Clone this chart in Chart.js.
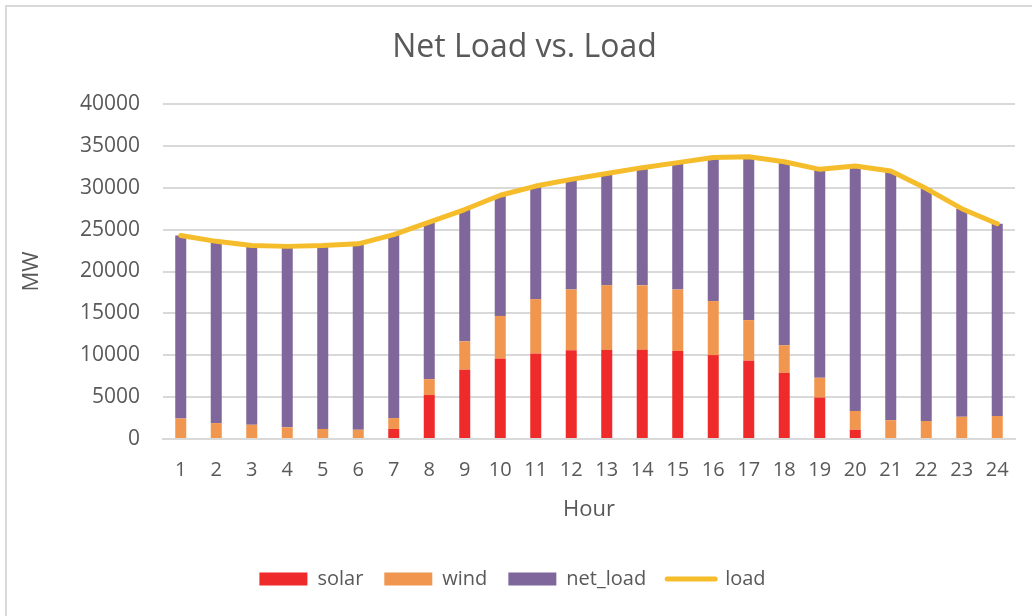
<!DOCTYPE html>
<html>
<head>
<meta charset="utf-8">
<script src="https://cdn.jsdelivr.net/npm/chart.js@4/dist/chart.umd.min.js"></script>
<style>
  html, body { margin: 0; padding: 0; background: #ffffff; overflow: hidden; }
  #frame { position: absolute; left: 5px; top: 5px; width: 1100px; height: 700px;
           border-left: 2px solid #d9d9d9; border-top: 2px solid #d9d9d9; box-sizing: border-box; }
  #c { position: absolute; left: 0; top: 0; }
</style>
</head>
<body>
<div id="frame"></div>
<canvas id="c" width="1032" height="616"></canvas>
<script>
const hours = ['1','2','3','4','5','6','7','8','9','10','11','12','13','14','15','16','17','18','19','20','21','22','23','24'];
const solar = [0, 0, 0, 0, 0, 0, 1200, 5250, 8270, 9600, 10200, 10600, 10620, 10650, 10500, 10020, 9350, 7900, 4950, 1100, 0, 0, 0, 0];
const wind = [2450, 1900, 1700, 1400, 1200, 1100, 1300, 1900, 3400, 5100, 6500, 7250, 7750, 7700, 7350, 6450, 4850, 3300, 2350, 2250, 2250, 2150, 2650, 2750];
const netLoad = [21850, 21700, 21400, 21600, 21900, 22200, 21900, 18750, 15730, 14400, 13500, 13150, 13330, 14050, 15150, 17130, 19500, 21900, 24900, 29250, 29750, 27750, 24850, 22950];
const load = [24300, 23600, 23100, 23000, 23100, 23300, 24400, 25900, 27400, 29100, 30200, 31000, 31700, 32400, 33000, 33600, 33700, 33100, 32200, 32600, 32000, 29900, 27500, 25700];
const yTicks = [0, 5000, 10000, 15000, 20000, 25000, 30000, 35000, 40000];

const FONT = "'Open Sans', 'Noto Sans', sans-serif";
const TEXT = '#595959';
const GRID = '#d9d9d9';

const nudge = {
  id: 'nudge',
  afterLayout(chart) {
    if (chart.titleBlock) { chart.titleBlock.left += 34; }
    if (chart.legend) { chart.legend.left += 10; }
  }
};

new Chart(document.getElementById('c'), {
  data: {
    labels: hours,
    datasets: [
      { type: 'bar', label: 'solar', data: solar, backgroundColor: '#EE2A2A', stack: 'gen', order: 1,
        categoryPercentage: 1, barPercentage: 0.31 },
      { type: 'bar', label: 'wind', data: wind, backgroundColor: '#F0964F', stack: 'gen', order: 1,
        categoryPercentage: 1, barPercentage: 0.31 },
      { type: 'bar', label: 'net_load', data: netLoad, backgroundColor: '#7F669B', stack: 'gen', order: 1,
        categoryPercentage: 1, barPercentage: 0.31 },
      { type: 'line', label: 'load', data: load, borderColor: '#F5BD2B', backgroundColor: '#F5BD2B',
        borderWidth: 5, pointRadius: 0, pointHoverRadius: 0, tension: 0, fill: false,
        borderCapStyle: 'round', borderJoinStyle: 'round', stack: 'loadline', order: 0 }
    ]
  },
  plugins: [nudge],
  options: {
    responsive: false,
    animation: false,
    devicePixelRatio: 1,
    layout: { padding: { left: 0, right: 17, top: 0, bottom: 17 } },
    plugins: {
      title: {
        display: true, text: 'Net Load vs. Load', color: TEXT,
        font: { family: FONT, size: 32, weight: 'normal' },
        padding: { top: 29, bottom: 36.6 }
      },
      legend: {
        display: true, position: 'bottom',
        labels: {
          color: TEXT, font: { family: FONT, size: 20 }, padding: 21,
          usePointStyle: true, pointStyleWidth: 48, boxWidth: 48, boxHeight: 13,
          generateLabels: (chart) => chart.data.datasets.map((ds, i) => {
            const isLine = ds.type === 'line';
            return {
              text: ds.label, datasetIndex: i, hidden: false, fontColor: TEXT,
              fillStyle: ds.backgroundColor, strokeStyle: isLine ? ds.borderColor : ds.backgroundColor,
              lineWidth: isLine ? 5 : 0, lineCap: 'round', pointStyle: isLine ? 'line' : 'rect'
            };
          })
        }
      },
      tooltip: { enabled: false }
    },
    scales: {
      x: {
        stacked: true,
        afterFit: (scale) => { scale.height = 109; },
        grid: { display: false, drawTicks: false },
        border: { display: true, color: GRID, width: 2 },
        ticks: { color: TEXT, font: { family: FONT, size: 20 }, padding: 19, maxRotation: 0, autoSkip: false },
        title: { display: true, text: 'Hour', color: TEXT, font: { family: FONT, size: 22 },
                 padding: { top: 15, bottom: 24.6 } }
      },
      y: {
        stacked: true,
        min: 0, max: 40000,
        afterBuildTicks: (scale) => { scale.ticks = yTicks.map(v => ({ value: v })); },
        afterFit: (scale) => { scale.width = 163; },
        grid: { color: GRID, lineWidth: 2, drawTicks: false },
        border: { display: false },
        ticks: { color: TEXT, font: { family: FONT, size: 21 }, padding: 23,
                 callback: (v) => String(v) },
        title: { display: true, text: 'MW', color: TEXT, font: { family: FONT, size: 22 },
                 padding: { top: 19, bottom: 0 } }
      }
    }
  }
});
</script>
</body>
</html>
